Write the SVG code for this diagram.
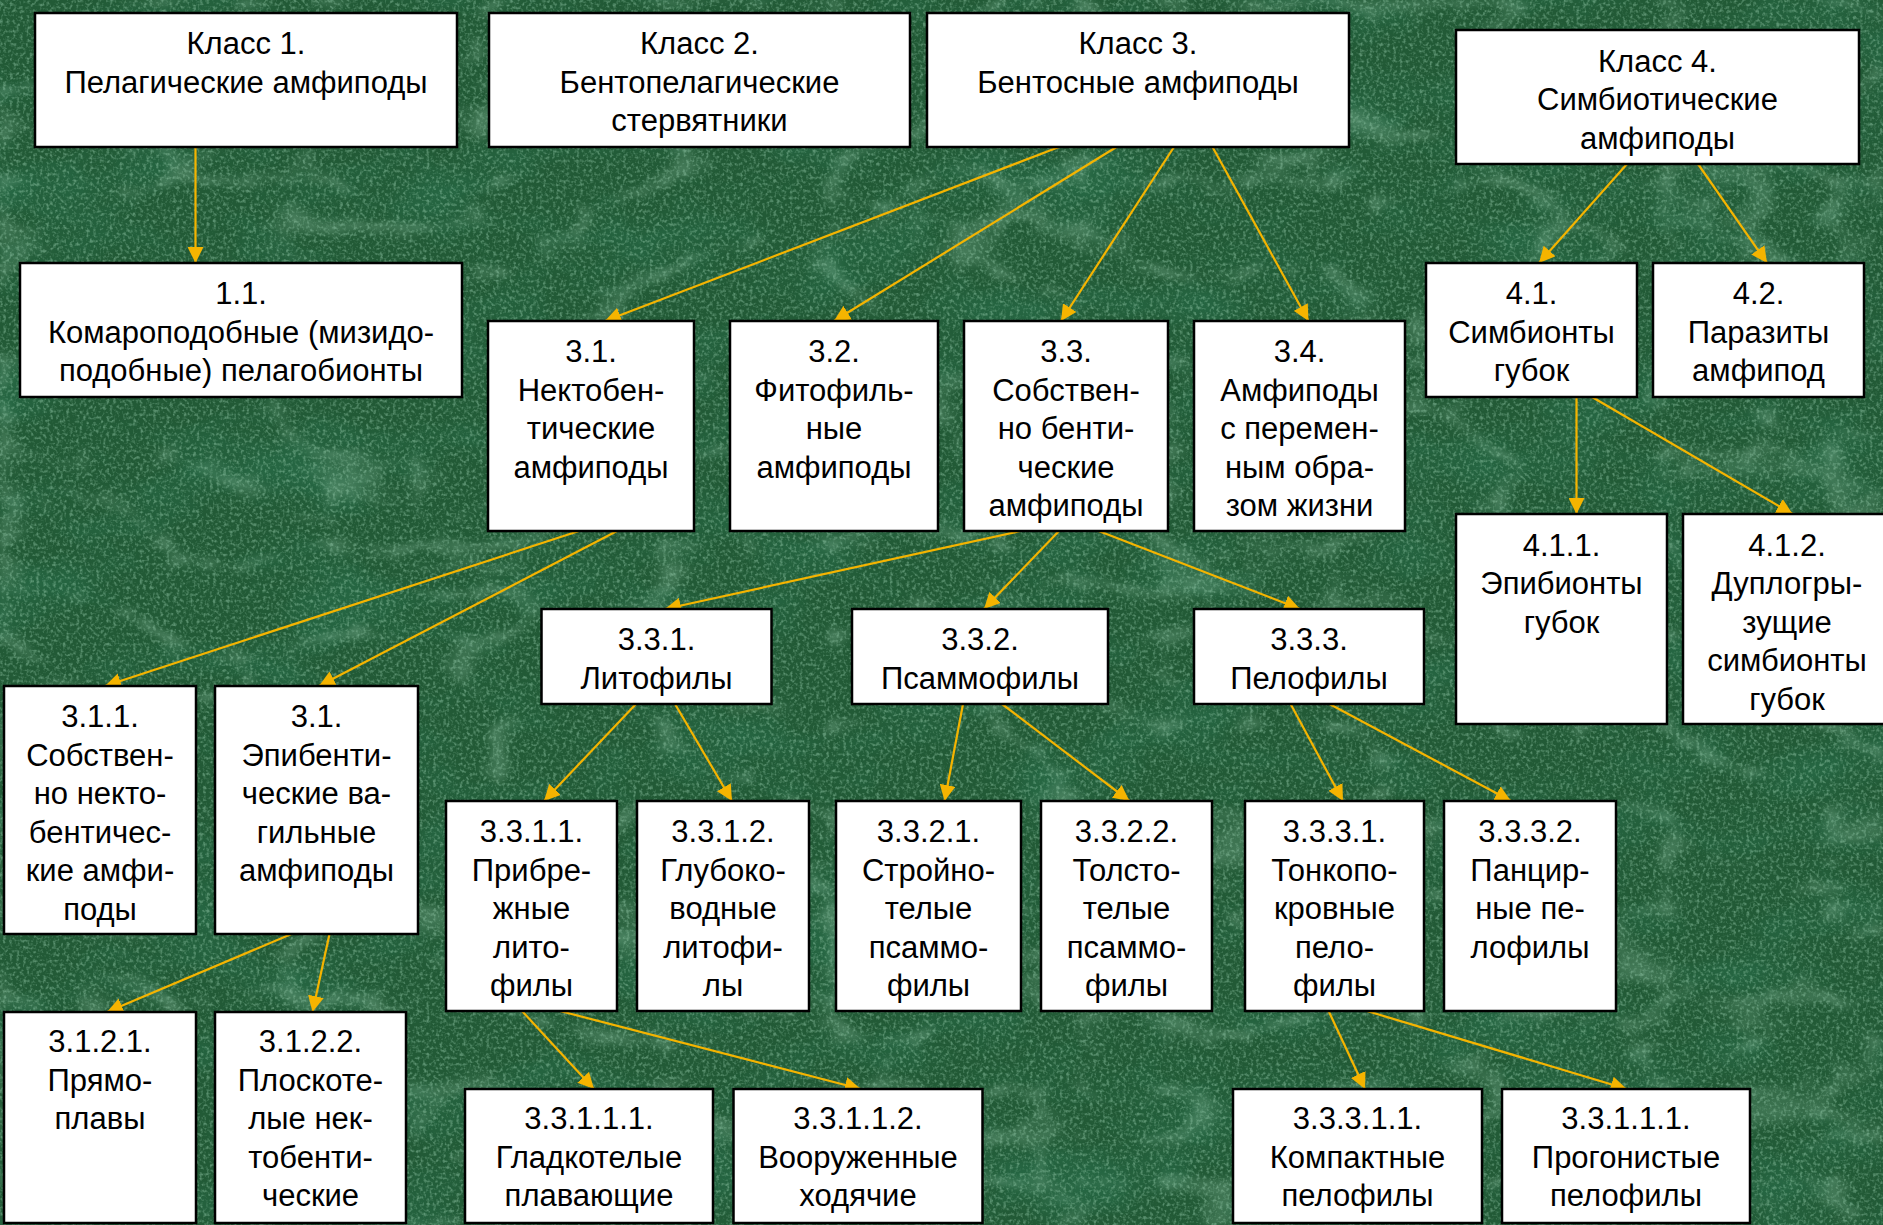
<svg xmlns="http://www.w3.org/2000/svg" width="1883" height="1225" viewBox="0 0 1883 1225">
<style>
.box{fill:#ffffff;stroke:#000000;stroke-width:2.5}
.t{font-family:"Liberation Sans",Arial,sans-serif;font-size:31px;fill:#000000;text-anchor:middle}
.c{fill:none;stroke:#F5B400;stroke-width:2.2}
</style>
<defs>
<marker id="ah" markerUnits="userSpaceOnUse" markerWidth="18" markerHeight="16" refX="16" refY="8" orient="auto">
<path d="M0,0 L16,8 L0,16 Z" fill="#F5B400"/>
</marker>
<filter id="blotch" x="0" y="0" width="100%" height="100%">
<feTurbulence type="fractalNoise" baseFrequency="0.008 0.014" numOctaves="4" seed="11"/>
<feColorMatrix type="matrix" values="0 0 0 0 0.02  0 0 0 0 0.14  0 0 0 0 0.06  -2.6 0 0 0 1.45"/>
</filter>
<filter id="veins" x="0" y="0" width="100%" height="100%">
<feTurbulence type="turbulence" baseFrequency="0.006 0.011" numOctaves="5" seed="4"/>
<feColorMatrix type="matrix" values="0 0 0 0 0.34  0 0 0 0 0.62  0 0 0 0 0.44  -3 0 0 0 0.7"/>
<feGaussianBlur stdDeviation="2.5"/>
</filter>
<filter id="grain" x="0" y="0" width="100%" height="100%">
<feTurbulence type="fractalNoise" baseFrequency="0.3" numOctaves="2" seed="3"/>
<feColorMatrix type="matrix" values="0 0 0 0 0.28  0 0 0 0 0.56  0 0 0 0 0.38  3 0 0 0 -1.4"/>
</filter>
</defs>
<rect x="0" y="0" width="1883" height="1225" fill="#225a36"/>
<rect x="0" y="0" width="1883" height="1225" filter="url(#blotch)" opacity="0.85"/>
<rect x="0" y="0" width="1883" height="1225" filter="url(#veins)" opacity="0.55"/>
<rect x="0" y="0" width="1883" height="1225" filter="url(#grain)" opacity="0.5"/>

<g id="connectors" class="c">
<line x1="195.5" y1="147" x2="195.5" y2="263" marker-end="url(#ah)"/>
<line x1="1059" y1="147" x2="605" y2="321" marker-end="url(#ah)"/>
<line x1="1116.5" y1="147" x2="834" y2="321" marker-end="url(#ah)"/>
<line x1="1174" y1="147" x2="1061" y2="321" marker-end="url(#ah)"/>
<line x1="1212.5" y1="147" x2="1308.5" y2="321" marker-end="url(#ah)"/>
<line x1="1627" y1="164" x2="1539" y2="263" marker-end="url(#ah)"/>
<line x1="1698" y1="164" x2="1767" y2="263" marker-end="url(#ah)"/>
<line x1="1576.5" y1="397" x2="1576.5" y2="514" marker-end="url(#ah)"/>
<line x1="1592" y1="397" x2="1792.6" y2="514" marker-end="url(#ah)"/>
<line x1="579" y1="531" x2="105" y2="686" marker-end="url(#ah)"/>
<line x1="617" y1="531" x2="319" y2="686" marker-end="url(#ah)"/>
<line x1="1020.5" y1="531" x2="665" y2="609" marker-end="url(#ah)"/>
<line x1="1059" y1="531" x2="984" y2="609" marker-end="url(#ah)"/>
<line x1="1098.7" y1="531" x2="1300" y2="609" marker-end="url(#ah)"/>
<line x1="636" y1="704" x2="544" y2="801" marker-end="url(#ah)"/>
<line x1="675" y1="704" x2="732" y2="801" marker-end="url(#ah)"/>
<line x1="963" y1="704" x2="944.6" y2="801" marker-end="url(#ah)"/>
<line x1="1002" y1="704" x2="1129.5" y2="801" marker-end="url(#ah)"/>
<line x1="1290.6" y1="704" x2="1343" y2="801" marker-end="url(#ah)"/>
<line x1="1329.5" y1="704" x2="1511" y2="801" marker-end="url(#ah)"/>
<line x1="291.5" y1="934" x2="107" y2="1012" marker-end="url(#ah)"/>
<line x1="329.5" y1="934" x2="312.5" y2="1012" marker-end="url(#ah)"/>
<line x1="522" y1="1011" x2="594" y2="1089" marker-end="url(#ah)"/>
<line x1="560" y1="1011" x2="860.7" y2="1089" marker-end="url(#ah)"/>
<line x1="1328.6" y1="1011" x2="1365" y2="1089" marker-end="url(#ah)"/>
<line x1="1367" y1="1011" x2="1626.7" y2="1089" marker-end="url(#ah)"/>
</g>

<g id="n-k1"><rect class="box" x="35" y="13" width="422" height="134"/>
<text class="t"><tspan x="246" y="54">Класс 1.</tspan><tspan x="246" y="92.5">Пелагические амфиподы</tspan></text></g>
<g id="n-k2"><rect class="box" x="489" y="13" width="421" height="134"/>
<text class="t"><tspan x="699.5" y="54">Класс 2.</tspan><tspan x="699.5" y="92.5">Бентопелагические</tspan><tspan x="699.5" y="131">стервятники</tspan></text></g>
<g id="n-k3"><rect class="box" x="927" y="13" width="422" height="134"/>
<text class="t"><tspan x="1138" y="54">Класс 3.</tspan><tspan x="1138" y="92.5">Бентосные амфиподы</tspan></text></g>
<g id="n-k4"><rect class="box" x="1456" y="30" width="403" height="134"/>
<text class="t"><tspan x="1657.5" y="71.5">Класс 4.</tspan><tspan x="1657.5" y="110">Симбиотические</tspan><tspan x="1657.5" y="148.5">амфиподы</tspan></text></g>
<g id="n-1-1"><rect class="box" x="20" y="263" width="442" height="134"/>
<text class="t"><tspan x="241" y="304">1.1.</tspan><tspan x="241" y="342.5">Комароподобные (мизидо-</tspan><tspan x="241" y="381">подобные) пелагобионты</tspan></text></g>
<g id="n-4-1"><rect class="box" x="1426" y="263" width="211" height="134"/>
<text class="t"><tspan x="1531.5" y="304">4.1.</tspan><tspan x="1531.5" y="342.5">Симбионты</tspan><tspan x="1531.5" y="381">губок</tspan></text></g>
<g id="n-4-2"><rect class="box" x="1653" y="263" width="211" height="134"/>
<text class="t"><tspan x="1758.5" y="304">4.2.</tspan><tspan x="1758.5" y="342.5">Паразиты</tspan><tspan x="1758.5" y="381">амфипод</tspan></text></g>
<g id="n-3-1"><rect class="box" x="488" y="321" width="206" height="210"/>
<text class="t"><tspan x="591" y="362">3.1.</tspan><tspan x="591" y="400.5">Нектобен-</tspan><tspan x="591" y="439">тические</tspan><tspan x="591" y="477.5">амфиподы</tspan></text></g>
<g id="n-3-2"><rect class="box" x="730" y="321" width="208" height="210"/>
<text class="t"><tspan x="834" y="362">3.2.</tspan><tspan x="834" y="400.5">Фитофиль-</tspan><tspan x="834" y="439">ные</tspan><tspan x="834" y="477.5">амфиподы</tspan></text></g>
<g id="n-3-3"><rect class="box" x="964" y="321" width="204" height="210"/>
<text class="t"><tspan x="1066" y="362">3.3.</tspan><tspan x="1066" y="400.5">Собствен-</tspan><tspan x="1066" y="439">но бенти-</tspan><tspan x="1066" y="477.5">ческие</tspan><tspan x="1066" y="516">амфиподы</tspan></text></g>
<g id="n-3-4"><rect class="box" x="1194" y="321" width="211" height="210"/>
<text class="t"><tspan x="1299.5" y="362">3.4.</tspan><tspan x="1299.5" y="400.5">Амфиподы</tspan><tspan x="1299.5" y="439">с перемен-</tspan><tspan x="1299.5" y="477.5">ным обра-</tspan><tspan x="1299.5" y="516">зом жизни</tspan></text></g>
<g id="n-4-1-1"><rect class="box" x="1456" y="514" width="211" height="210"/>
<text class="t"><tspan x="1561.5" y="555.5">4.1.1.</tspan><tspan x="1561.5" y="594">Эпибионты</tspan><tspan x="1561.5" y="632.5">губок</tspan></text></g>
<g id="n-4-1-2"><rect class="box" x="1683" y="514" width="208" height="210"/>
<text class="t"><tspan x="1787" y="555.5">4.1.2.</tspan><tspan x="1787" y="594">Дуплогры-</tspan><tspan x="1787" y="632.5">зущие</tspan><tspan x="1787" y="671">симбионты</tspan><tspan x="1787" y="709.5">губок</tspan></text></g>
<g id="n-3-3-1"><rect class="box" x="541.5" y="609" width="230" height="95"/>
<text class="t"><tspan x="656.5" y="650">3.3.1.</tspan><tspan x="656.5" y="688.5">Литофилы</tspan></text></g>
<g id="n-3-3-2"><rect class="box" x="852" y="609" width="256" height="95"/>
<text class="t"><tspan x="980" y="650">3.3.2.</tspan><tspan x="980" y="688.5">Псаммофилы</tspan></text></g>
<g id="n-3-3-3"><rect class="box" x="1194" y="609" width="230" height="95"/>
<text class="t"><tspan x="1309" y="650">3.3.3.</tspan><tspan x="1309" y="688.5">Пелофилы</tspan></text></g>
<g id="n-3-1-1"><rect class="box" x="4" y="686" width="192" height="248"/>
<text class="t"><tspan x="100" y="727">3.1.1.</tspan><tspan x="100" y="765.5">Собствен-</tspan><tspan x="100" y="804">но некто-</tspan><tspan x="100" y="842.5">бентичес-</tspan><tspan x="100" y="881">кие амфи-</tspan><tspan x="100" y="919.5">поды</tspan></text></g>
<g id="n-3-1-epi"><rect class="box" x="215" y="686" width="203" height="248"/>
<text class="t"><tspan x="316.5" y="727">3.1.</tspan><tspan x="316.5" y="765.5">Эпибенти-</tspan><tspan x="316.5" y="804">ческие ва-</tspan><tspan x="316.5" y="842.5">гильные</tspan><tspan x="316.5" y="881">амфиподы</tspan></text></g>
<g id="n-3-3-1-1"><rect class="box" x="446" y="801" width="171" height="210"/>
<text class="t"><tspan x="531.5" y="842">3.3.1.1.</tspan><tspan x="531.5" y="880.5">Прибре-</tspan><tspan x="531.5" y="919">жные</tspan><tspan x="531.5" y="957.5">лито-</tspan><tspan x="531.5" y="996">филы</tspan></text></g>
<g id="n-3-3-1-2"><rect class="box" x="637" y="801" width="172" height="210"/>
<text class="t"><tspan x="723" y="842">3.3.1.2.</tspan><tspan x="723" y="880.5">Глубоко-</tspan><tspan x="723" y="919">водные</tspan><tspan x="723" y="957.5">литофи-</tspan><tspan x="723" y="996">лы</tspan></text></g>
<g id="n-3-3-2-1"><rect class="box" x="836" y="801" width="185" height="210"/>
<text class="t"><tspan x="928.5" y="842">3.3.2.1.</tspan><tspan x="928.5" y="880.5">Стройно-</tspan><tspan x="928.5" y="919">телые</tspan><tspan x="928.5" y="957.5">псаммо-</tspan><tspan x="928.5" y="996">филы</tspan></text></g>
<g id="n-3-3-2-2"><rect class="box" x="1041" y="801" width="171" height="210"/>
<text class="t"><tspan x="1126.5" y="842">3.3.2.2.</tspan><tspan x="1126.5" y="880.5">Толсто-</tspan><tspan x="1126.5" y="919">телые</tspan><tspan x="1126.5" y="957.5">псаммо-</tspan><tspan x="1126.5" y="996">филы</tspan></text></g>
<g id="n-3-3-3-1"><rect class="box" x="1245" y="801" width="179" height="210"/>
<text class="t"><tspan x="1334.5" y="842">3.3.3.1.</tspan><tspan x="1334.5" y="880.5">Тонкопо-</tspan><tspan x="1334.5" y="919">кровные</tspan><tspan x="1334.5" y="957.5">пело-</tspan><tspan x="1334.5" y="996">филы</tspan></text></g>
<g id="n-3-3-3-2"><rect class="box" x="1444" y="801" width="172" height="210"/>
<text class="t"><tspan x="1530" y="842">3.3.3.2.</tspan><tspan x="1530" y="880.5">Панцир-</tspan><tspan x="1530" y="919">ные пе-</tspan><tspan x="1530" y="957.5">лофилы</tspan></text></g>
<g id="n-3-1-2-1"><rect class="box" x="4" y="1012" width="192" height="211"/>
<text class="t"><tspan x="100" y="1052">3.1.2.1.</tspan><tspan x="100" y="1090.5">Прямо-</tspan><tspan x="100" y="1129">плавы</tspan></text></g>
<g id="n-3-1-2-2"><rect class="box" x="215" y="1012" width="191" height="211"/>
<text class="t"><tspan x="310.5" y="1052">3.1.2.2.</tspan><tspan x="310.5" y="1090.5">Плоскоте-</tspan><tspan x="310.5" y="1129">лые нек-</tspan><tspan x="310.5" y="1167.5">тобенти-</tspan><tspan x="310.5" y="1206">ческие</tspan></text></g>
<g id="n-3-3-1-1-1"><rect class="box" x="465" y="1089" width="248" height="134"/>
<text class="t"><tspan x="589" y="1129">3.3.1.1.1.</tspan><tspan x="589" y="1167.5">Гладкотелые</tspan><tspan x="589" y="1206">плавающие</tspan></text></g>
<g id="n-3-3-1-1-2"><rect class="box" x="733.5" y="1089" width="249" height="134"/>
<text class="t"><tspan x="858" y="1129">3.3.1.1.2.</tspan><tspan x="858" y="1167.5">Вооруженные</tspan><tspan x="858" y="1206">ходячие</tspan></text></g>
<g id="n-3-3-3-1-1"><rect class="box" x="1233" y="1089" width="249" height="134"/>
<text class="t"><tspan x="1357.5" y="1129">3.3.3.1.1.</tspan><tspan x="1357.5" y="1167.5">Компактные</tspan><tspan x="1357.5" y="1206">пелофилы</tspan></text></g>
<g id="n-progon"><rect class="box" x="1502" y="1089" width="248" height="134"/>
<text class="t"><tspan x="1626" y="1129">3.3.1.1.1.</tspan><tspan x="1626" y="1167.5">Прогонистые</tspan><tspan x="1626" y="1206">пелофилы</tspan></text></g>
</svg>
